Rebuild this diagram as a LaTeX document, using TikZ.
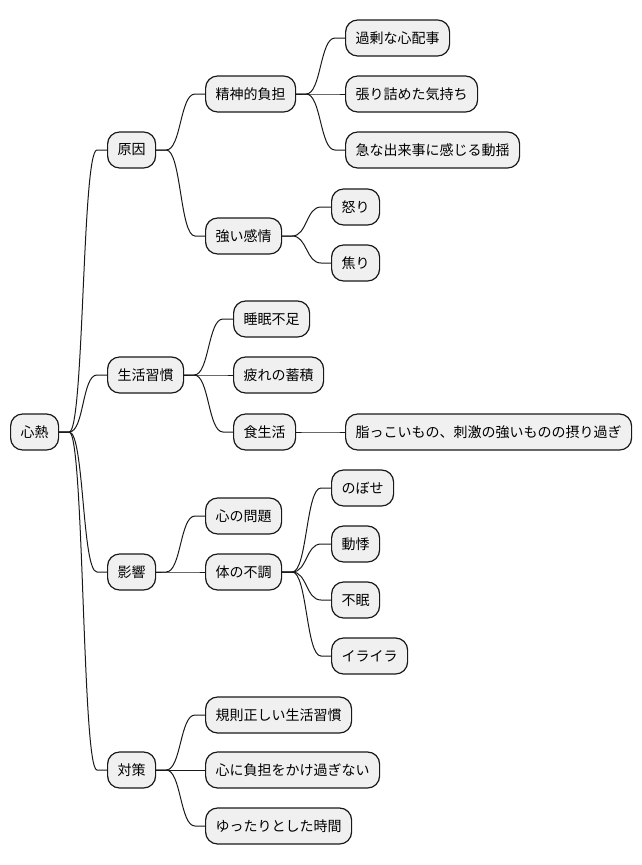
\documentclass[tikz,border=0pt]{standalone}
\usepackage{fontspec}
\setmainfont{Noto Sans CJK JP}
\begin{document}
\begin{tikzpicture}[x=0.75pt, y=-0.75pt, line join=round, line cap=round,
	font=\fontsize{10.5pt}{12pt}\selectfont,
	box/.style={draw=black!90, line width=0.9pt, fill=black!6, rounded corners=9pt,
		minimum height=27pt, inner xsep=7.5pt, inner ysep=2pt, anchor=west},
	link/.style={draw=black!90, line width=0.75pt}]
	\useasboundingbox (0,0) rectangle (642,865);
	\node[box] (root) at (10,432) {心熱};
	\node[box] (cause) at (107,150) {原因};
	\node[box] (mental) at (205,94) {精神的負担};
	\node[box] (worry) at (345,38) {過剰な心配事};
	\node[box] (tense) at (345,94) {張り詰めた気持ち};
	\node[box] (shock) at (345,150) {急な出来事に感じる動揺};
	\node[box] (emotion) at (205,236) {強い感情};
	\node[box] (anger) at (331,207) {怒り};
	\node[box] (haste) at (331,263) {焦り};
	\node[box] (habit) at (107,375) {生活習慣};
	\node[box] (sleep) at (233,319) {睡眠不足};
	\node[box] (fatigue) at (233,375) {疲れの蓄積};
	\node[box] (diet) at (233,432) {食生活};
	\node[box] (greasy) at (345,432) {脂っこいもの、刺激の強いものの摂り過ぎ};
	\node[box] (effect) at (107,572) {影響};
	\node[box] (mind) at (205,516) {心の問題};
	\node[box] (body) at (205,572) {体の不調};
	\node[box] (flush) at (331,488) {のぼせ};
	\node[box] (palp) at (331,544) {動悸};
	\node[box] (insom) at (331,600) {不眠};
	\node[box] (irrit) at (331,656) {イライラ};
	\node[box] (remedy) at (107,770) {対策};
	\node[box] (regular) at (205,715) {規則正しい生活習慣};
	\node[box] (burden) at (205,770) {心に負担をかけ過ぎない};
	\node[box] (relax) at (205,826) {ゆったりとした時間};
	\foreach \p/\c in {root/cause, cause/mental, mental/worry, mental/tense, mental/shock,
		cause/emotion, emotion/anger, emotion/haste, root/habit, habit/sleep, habit/fatigue,
		habit/diet, diet/greasy, root/effect, effect/mind, effect/body, body/flush, body/palp,
		body/insom, body/irrit, root/remedy, remedy/regular, remedy/burden, remedy/relax}
		\draw[link] (\p.east) -- ++(10,0) .. controls +(15,0) and +(-15,0) .. ([xshift=-7.5pt]\c.west) -- (\c.west);
\end{tikzpicture}
\end{document}
